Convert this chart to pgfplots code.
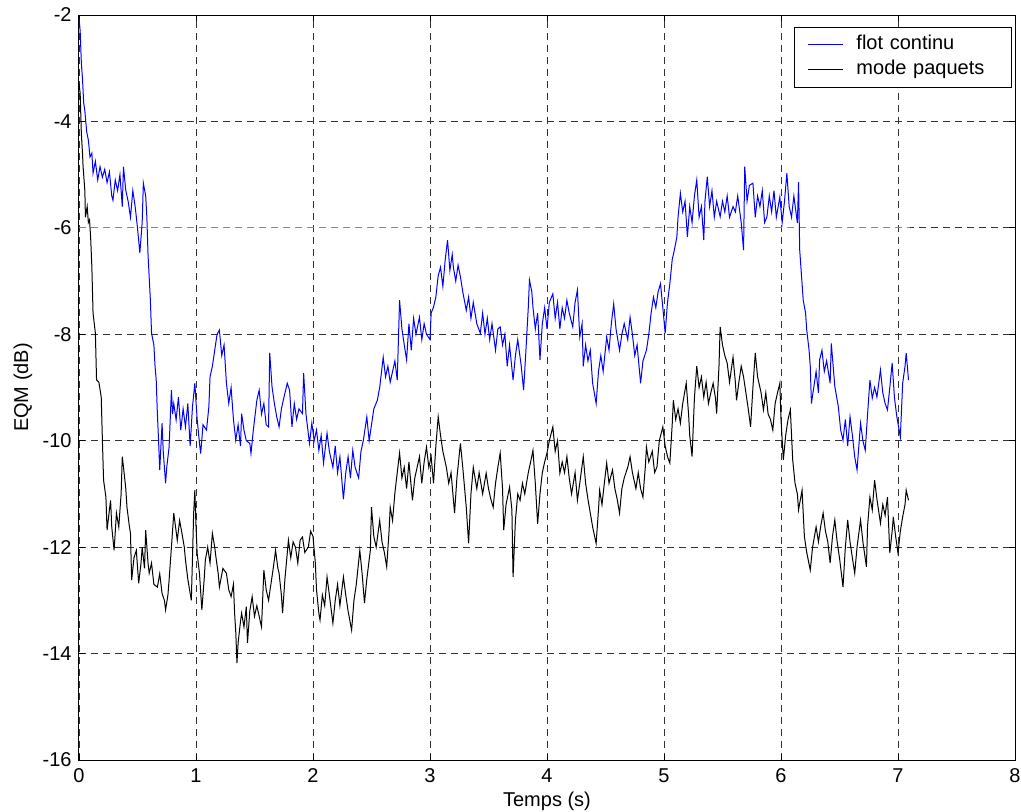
\documentclass[border=0pt]{standalone}
\usepackage{pgfplots}
\pgfplotsset{compat=1.18}
\usepackage{fontspec}
\setmainfont{Liberation Sans}
\definecolor{mblue}{RGB}{0,0,255}
\definecolor{mgreen}{RGB}{40,200,40}
\pgfplotstableread{
x y
0 -2.05
0.01 -2.3
0.02 -2.9
0.03 -3.2
0.04 -3.65
0.05 -3.8
0.066 -4.2
0.08 -4.35
0.094 -4.67
0.11 -4.6
0.12 -4.97
0.14 -4.75
0.16 -5.1
0.18 -4.85
0.2 -5.05
0.22 -4.9
0.24 -5.15
0.26 -4.95
0.28 -5.4
0.29 -5.48
0.31 -5.1
0.33 -5.3
0.35 -5.0
0.37 -5.6
0.38 -4.85
0.40 -5.3
0.42 -5.5
0.44 -5.8
0.46 -5.3
0.48 -5.6
0.50 -6.0
0.52 -6.47
0.54 -5.9
0.55 -5.16
0.57 -5.4
0.58 -5.8
0.59 -6.5
0.61 -7.36
0.62 -7.98
0.64 -8.2
0.65 -8.6
0.66 -8.86
0.67 -9.5
0.68 -9.99
0.69 -10.55
0.71 -9.67
0.72 -10.2
0.74 -10.8
0.75 -10.5
0.77 -10.12
0.79 -9.05
0.80 -9.5
0.81 -9.3
0.83 -9.61
0.85 -9.18
0.87 -9.8
0.89 -9.4
0.91 -9.74
0.93 -9.3
0.95 -10.1
0.97 -9.36
0.99 -8.92
1.01 -9.6
1.03 -10.05
1.04 -10.24
1.06 -9.7
1.09 -9.8
1.11 -9.36
1.12 -8.8
1.14 -8.6
1.16 -8.3
1.18 -8.0
1.2 -7.92
1.22 -8.4
1.24 -8.2
1.26 -8.92
1.28 -9.3
1.30 -9.0
1.32 -9.6
1.34 -9.99
1.36 -9.7
1.38 -10.1
1.39 -9.49
1.41 -9.8
1.43 -10.0
1.46 -10.05
1.47 -10.24
1.49 -9.8
1.52 -9.24
1.54 -9.05
1.56 -9.5
1.58 -9.3
1.60 -9.7
1.62 -9.74
1.63 -8.35
1.65 -8.99
1.67 -9.3
1.69 -9.55
1.71 -9.74
1.73 -9.4
1.75 -9.2
1.78 -8.92
1.80 -9.05
1.82 -9.74
1.84 -9.3
1.86 -9.6
1.88 -9.4
1.91 -9.49
1.92 -8.73
1.94 -9.5
1.97 -10.05
1.99 -9.67
2.01 -10.0
2.03 -9.8
2.05 -10.18
2.07 -9.9
2.09 -10.42
2.12 -9.86
2.14 -10.2
2.17 -10.5
2.19 -10.1
2.21 -10.6
2.23 -10.3
2.26 -11.1
2.28 -10.6
2.30 -10.3
2.32 -10.7
2.34 -10.18
2.36 -10.5
2.39 -10.7
2.41 -10.2
2.43 -10.0
2.46 -9.55
2.48 -10.0
2.50 -9.7
2.52 -9.4
2.55 -9.24
2.57 -9.0
2.6 -8.43
2.62 -8.8
2.64 -8.6
2.66 -8.9
2.68 -8.7
2.70 -8.5
2.72 -8.86
2.74 -7.36
2.76 -7.9
2.78 -8.2
2.80 -8.48
2.82 -7.8
2.84 -8.3
2.86 -7.7
2.88 -8.0
2.91 -7.68
2.93 -8.1
2.95 -7.8
2.97 -8.0
3.0 -8.1
3.01 -7.6
3.03 -7.49
3.05 -7.3
3.07 -6.9
3.09 -6.74
3.11 -7.1
3.13 -6.6
3.15 -6.23
3.17 -6.8
3.19 -6.5
3.2 -6.74
3.22 -7.0
3.24 -6.7
3.26 -6.92
3.28 -7.2
3.31 -7.55
3.33 -7.3
3.35 -7.7
3.37 -7.4
3.40 -7.8
3.43 -7.98
3.45 -7.6
3.47 -8.0
3.49 -7.7
3.51 -8.1
3.53 -7.8
3.56 -8.3
3.58 -7.9
3.60 -7.86
3.62 -8.2
3.64 -8.0
3.66 -8.6
3.68 -8.2
3.71 -8.86
3.73 -8.4
3.75 -8.1
3.78 -8.6
3.80 -9.05
3.82 -8.3
3.84 -7.5
3.85 -6.98
3.87 -7.2
3.88 -7.49
3.90 -7.9
3.92 -7.6
3.94 -8.48
3.96 -7.8
3.98 -7.5
4.0 -7.9
4.02 -7.4
4.05 -7.24
4.07 -7.7
4.09 -7.4
4.11 -7.9
4.13 -7.5
4.15 -7.7
4.17 -7.36
4.19 -7.6
4.22 -7.86
4.24 -7.4
4.26 -7.17
4.28 -8.05
4.30 -7.8
4.31 -8.6
4.33 -8.2
4.35 -8.5
4.37 -8.3
4.39 -8.92
4.42 -9.3
4.44 -8.7
4.46 -8.4
4.48 -8.7
4.51 -8.05
4.53 -8.3
4.55 -7.8
4.57 -7.43
4.59 -7.9
4.62 -8.3
4.64 -8.0
4.66 -7.8
4.69 -8.1
4.71 -7.68
4.73 -8.0
4.75 -8.4
4.77 -8.2
4.80 -8.92
4.82 -8.5
4.85 -8.3
4.87 -8.0
4.89 -7.6
4.91 -7.3
4.93 -7.5
4.95 -7.2
4.97 -7.05
4.99 -7.5
5.01 -7.98
5.03 -7.4
5.05 -7.05
5.07 -6.6
5.09 -6.4
5.11 -6.17
5.12 -5.8
5.14 -5.35
5.16 -5.7
5.18 -5.5
5.2 -6.17
5.22 -5.6
5.24 -5.9
5.26 -5.4
5.28 -5.1
5.30 -5.8
5.32 -5.6
5.34 -6.23
5.35 -5.5
5.37 -5.04
5.39 -5.6
5.41 -5.3
5.43 -5.8
5.45 -5.5
5.48 -5.79
5.50 -5.5
5.52 -5.7
5.54 -5.4
5.56 -5.8
5.59 -5.6
5.61 -5.7
5.63 -5.4
5.66 -5.9
5.68 -6.42
5.69 -4.85
5.71 -5.5
5.73 -5.2
5.76 -5.16
5.78 -5.8
5.80 -5.4
5.82 -5.6
5.84 -5.3
5.86 -5.9
5.88 -5.79
5.90 -5.4
5.92 -5.7
5.94 -5.3
5.96 -5.8
5.99 -5.42
6.01 -5.9
6.03 -5.5
6.05 -4.97
6.07 -5.6
6.09 -5.8
6.11 -5.4
6.14 -5.91
6.15 -5.14
6.16 -6.42
6.19 -7.36
6.21 -7.6
6.22 -7.92
6.24 -8.3
6.25 -8.6
6.26 -9.3
6.28 -9.0
6.30 -8.7
6.32 -9.1
6.33 -8.48
6.35 -8.3
6.37 -8.7
6.39 -8.5
6.42 -8.92
6.43 -8.17
6.46 -8.98
6.49 -9.36
6.51 -9.8
6.53 -9.99
6.55 -9.6
6.57 -10.1
6.59 -9.55
6.61 -9.9
6.63 -10.3
6.65 -10.55
6.68 -9.67
6.70 -10.0
6.72 -10.18
6.74 -9.5
6.76 -8.86
6.78 -9.2
6.80 -9.0
6.82 -9.18
6.85 -8.67
6.87 -9.1
6.89 -9.3
6.91 -9.42
6.93 -9.0
6.95 -8.54
6.97 -9.2
6.99 -9.55
7.01 -9.8
7.02 -9.93
7.04 -8.92
7.06 -8.6
7.07 -8.35
7.09 -8.86
}\flot
\pgfplotstableread{
x y
0 -3.3
0.01 -3.47
0.02 -4.22
0.03 -4.6
0.035 -4.85
0.05 -5.3
0.055 -5.8
0.07 -5.6
0.08 -5.9
0.09 -5.85
0.10 -6.2
0.11 -6.74
0.12 -7.6
0.14 -7.98
0.15 -8.86
0.17 -8.9
0.19 -9.18
0.20 -9.99
0.21 -10.74
0.23 -11.06
0.24 -11.68
0.26 -11.3
0.27 -11.12
0.28 -11.62
0.30 -12.06
0.32 -11.36
0.34 -11.62
0.36 -11.0
0.37 -10.3
0.38 -10.49
0.40 -10.9
0.41 -11.25
0.43 -11.6
0.44 -11.74
0.45 -12.62
0.47 -12.2
0.49 -12.06
0.51 -12.68
0.53 -12.3
0.54 -12.0
0.56 -12.4
0.57 -11.68
0.59 -12.3
0.60 -12.49
0.62 -12.3
0.64 -12.7
0.67 -12.75
0.69 -12.5
0.71 -12.87
0.73 -13.0
0.74 -13.18
0.76 -12.9
0.77 -12.62
0.79 -12.0
0.81 -11.36
0.83 -11.7
0.84 -11.87
0.86 -11.5
0.88 -11.74
0.90 -12.0
0.91 -12.24
0.93 -12.6
0.96 -13.0
0.97 -12.2
0.98 -11.36
0.99 -10.93
1.00 -11.6
1.01 -12.12
1.03 -12.5
1.05 -13.18
1.07 -12.6
1.08 -12.24
1.10 -12.0
1.12 -12.3
1.14 -11.74
1.16 -12.0
1.17 -12.18
1.19 -12.5
1.20 -12.75
1.23 -12.4
1.26 -12.49
1.28 -12.8
1.30 -12.93
1.32 -12.7
1.33 -13.24
1.34 -13.6
1.35 -14.18
1.36 -13.8
1.38 -13.4
1.39 -13.24
1.41 -13.5
1.43 -13.12
1.44 -13.8
1.46 -13.2
1.48 -12.93
1.50 -13.3
1.52 -13.1
1.54 -13.3
1.56 -13.5
1.58 -12.43
1.60 -12.8
1.62 -13.0
1.64 -12.7
1.66 -12.4
1.68 -12.06
1.70 -12.4
1.71 -12.49
1.73 -12.9
1.74 -13.24
1.76 -12.6
1.79 -11.87
1.81 -12.2
1.83 -11.9
1.85 -12.0
1.87 -12.3
1.89 -11.87
1.91 -11.81
1.93 -12.1
1.96 -12.0
1.98 -11.7
2.00 -11.8
2.02 -12.3
2.03 -12.8
2.05 -13.24
2.06 -13.37
2.08 -12.9
2.10 -13.1
2.12 -12.56
2.14 -12.9
2.17 -13.43
2.19 -13.0
2.21 -12.7
2.23 -13.1
2.26 -12.56
2.28 -12.9
2.30 -13.2
2.33 -13.56
2.35 -13.0
2.37 -12.7
2.40 -12.06
2.42 -12.5
2.44 -13.05
2.46 -12.6
2.49 -12.06
2.50 -11.25
2.52 -11.8
2.54 -12.0
2.57 -11.5
2.59 -11.9
2.61 -12.1
2.63 -12.37
2.65 -11.7
2.66 -11.25
2.68 -11.5
2.70 -10.98
2.72 -10.6
2.74 -10.23
2.76 -10.7
2.78 -10.5
2.80 -10.9
2.82 -10.4
2.85 -11.12
2.87 -10.7
2.89 -10.5
2.91 -10.3
2.93 -10.8
2.95 -10.4
2.97 -10.12
2.99 -10.5
3.01 -10.3
3.03 -10.8
3.05 -10.1
3.07 -9.55
3.09 -9.9
3.11 -10.2
3.14 -10.5
3.16 -10.8
3.18 -10.6
3.21 -11.36
3.23 -10.7
3.26 -10.05
3.28 -10.5
3.31 -11.25
3.33 -11.93
3.35 -11.0
3.37 -10.5
3.40 -10.9
3.42 -10.6
3.45 -11.0
3.48 -10.61
3.50 -10.9
3.52 -11.1
3.54 -11.25
3.56 -10.8
3.58 -10.5
3.60 -10.23
3.62 -10.9
3.63 -11.68
3.65 -11.2
3.68 -10.87
3.70 -11.3
3.71 -12.56
3.73 -11.5
3.75 -11.0
3.77 -11.12
3.79 -10.8
3.81 -11.0
3.84 -10.6
3.86 -10.4
3.88 -10.18
3.90 -10.8
3.92 -11.56
3.94 -11.0
3.96 -10.6
3.98 -10.4
4.00 -10.23
4.02 -10.0
4.05 -9.74
4.07 -10.2
4.09 -10.0
4.11 -10.61
4.13 -10.4
4.15 -10.6
4.17 -10.3
4.19 -10.7
4.21 -11.0
4.24 -10.6
4.26 -11.12
4.28 -10.8
4.31 -10.3
4.33 -10.8
4.35 -11.1
4.37 -11.36
4.39 -11.62
4.42 -11.93
4.44 -11.3
4.45 -10.93
4.47 -11.2
4.49 -10.8
4.51 -10.42
4.53 -10.8
4.56 -10.55
4.58 -10.9
4.60 -11.1
4.62 -11.36
4.64 -10.9
4.66 -10.7
4.69 -10.5
4.71 -10.3
4.73 -10.6
4.76 -10.9
4.78 -10.6
4.80 -10.9
4.82 -11.06
4.84 -10.5
4.85 -10.12
4.87 -10.4
4.90 -10.2
4.92 -10.6
4.94 -10.49
4.96 -10.0
4.99 -9.74
5.01 -10.1
5.03 -10.3
5.05 -10.42
5.07 -9.7
5.08 -9.24
5.10 -9.6
5.12 -9.4
5.14 -9.67
5.16 -9.3
5.19 -8.92
5.21 -9.5
5.22 -9.9
5.24 -10.3
5.26 -9.2
5.28 -8.6
5.30 -9.0
5.32 -8.8
5.34 -9.18
5.36 -8.9
5.38 -9.3
5.40 -9.1
5.42 -8.92
5.44 -9.2
5.45 -9.49
5.47 -8.6
5.48 -7.86
5.50 -8.2
5.52 -8.4
5.54 -8.54
5.56 -8.9
5.59 -8.43
5.61 -8.9
5.62 -9.24
5.64 -8.9
5.66 -8.6
5.68 -8.8
5.70 -9.1
5.72 -9.4
5.74 -9.74
5.76 -9.0
5.78 -8.35
5.80 -8.8
5.83 -9.1
5.85 -9.42
5.87 -9.1
5.89 -9.5
5.91 -9.6
5.93 -9.8
5.95 -9.3
5.97 -9.1
5.99 -8.92
6.00 -9.6
6.02 -10.36
6.04 -9.9
6.06 -9.6
6.08 -9.42
6.10 -10.36
6.12 -10.8
6.14 -11.0
6.15 -11.3
6.18 -10.93
6.20 -11.8
6.22 -12.1
6.25 -12.43
6.27 -12.0
6.30 -11.62
6.32 -11.9
6.34 -11.6
6.36 -11.36
6.38 -11.7
6.40 -11.9
6.42 -12.3
6.44 -11.8
6.46 -11.49
6.48 -11.9
6.50 -12.2
6.53 -12.75
6.55 -12.0
6.57 -11.49
6.59 -11.9
6.61 -12.2
6.63 -12.49
6.65 -12.0
6.68 -11.49
6.70 -11.9
6.73 -12.37
6.74 -11.6
6.76 -11.06
6.78 -11.3
6.80 -10.74
6.82 -11.1
6.85 -11.55
6.87 -11.2
6.89 -11.4
6.91 -11.06
6.93 -12.11
6.95 -11.7
6.96 -11.43
6.98 -11.8
7.00 -12.11
7.02 -11.7
7.04 -11.43
7.06 -11.2
7.07 -10.93
7.09 -11.12
}\paquets
\begin{document}
\fontsize{10}{12}\selectfont
\begin{tikzpicture}
\begin{axis}[
  scale only axis,
  width=468pt, height=372.5pt,
  xmin=0, xmax=8, ymin=-16, ymax=-2,
  xtick={0,1,...,8}, ytick={-16,-14,...,-2},
  /pgf/number format/assume math mode=true,
  tick align=inside, tick pos=both,
  major tick length=3pt,
  tick style={black, line width=0.4pt},
  axis line style={black, line width=0.5pt},
  grid=major,
  major grid style={black!80, line width=0.4pt, dash pattern=on 3.5pt off 2.5pt},
  tick label style={font=\fontsize{10}{12}\selectfont},
  label style={font=\fontsize{10}{12}\selectfont},
  xticklabel style={inner sep=0pt, yshift=-4pt},
  yticklabel style={inner sep=0pt, xshift=-3.5pt},
  xlabel={Temps (s)}, ylabel={EQM (dB)},
  xlabel style={inner sep=0pt, yshift=-4.5pt},
  ylabel style={inner sep=0pt, yshift=5pt},
  legend style={at={(0.9968,0.984)}, anchor=north east, draw=black, line width=0.5pt,
    font=\fontsize{10}{12}\selectfont, inner xsep=6.5pt, inner ysep=4pt,
    row sep=3pt, column sep=6.5pt,
    nodes={inner sep=0pt, text height=7pt, text depth=2.5pt},
    /tikz/column 2/.style={nodes={text width=71pt, align=left}}},
  legend cell align=left,
  legend image code/.code={\draw[#1, line width=0.5pt] (0pt,0pt) -- (17.5pt,0pt);},
]
\addplot[mgreen, line width=0.5pt, dash pattern=on 3.5pt off 2.5pt, forget plot] coordinates {(0,-6) (7.1,-6)};
\addplot[mblue, line width=0.5pt] table[x=x, y=y] {\flot};
\addlegendentry{flot continu}
\addplot[black, line width=0.5pt] table[x=x, y=y] {\paquets};
\addlegendentry{mode paquets}
\end{axis}
\pgfresetboundingbox
\path[use as bounding box] (current axis.south west) ++(-39.5pt,-25.5pt) rectangle ++(510.5pt,405.5pt);
\end{tikzpicture}
\end{document}
